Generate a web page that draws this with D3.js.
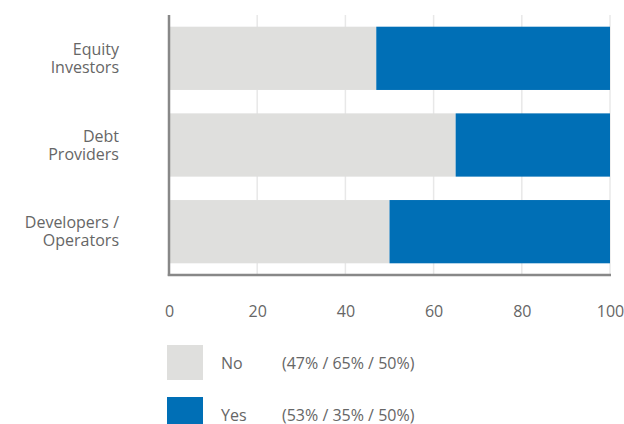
<!DOCTYPE html>
<html>
<head>
<meta charset="utf-8">
<script src="https://cdn.jsdelivr.net/npm/d3@7"></script>
<style>
  html, body { margin: 0; padding: 0; background: #fff; }
  svg { display: block; font-family: "Open Sans", "Noto Sans", sans-serif; }
</style>
</head>
<body>
<svg id="chart" width="624" height="424"></svg>
<script>
// Survey groups (top to bottom), each with two lines of label text
const categories = ["Equity Investors", "Debt Providers", "Developers / Operators"];
const categoryLines = [["Equity", "Investors"], ["Debt", "Providers"], ["Developers /", "Operators"]];
// Share answering "No" and "Yes" per group, in percent
const noValues = [47, 65, 50];
const yesValues = [53, 35, 50];
const seriesNames = ["No", "Yes"];
const seriesColors = ["#dfdfdd", "#006fb6"];
const xTicks = [0, 20, 40, 60, 80, 100];

const svg = d3.select("#chart");
const plotLeft = 169, plotRight = 610, plotTop = 15, plotBottom = 275;
const fontSize = "16px";
const textColor = "#666";

const x = d3.scaleLinear().domain([0, 100]).range([plotLeft, plotRight]);
const y = d3.scaleBand().domain(categories).range([plotTop, plotBottom])
  .paddingInner(0.27).paddingOuter(0.135);

// Vertical grid lines
svg.append("g")
  .selectAll("line")
  .data(xTicks.filter(t => t > 0))
  .join("line")
  .attr("x1", d => x(d)).attr("x2", d => x(d))
  .attr("y1", plotTop).attr("y2", plotBottom)
  .attr("stroke", "#e8e8e8").attr("stroke-width", 1.5);

// Stacked bars
const stackData = categories.map((c, i) => ({ cat: c, No: noValues[i], Yes: yesValues[i] }));
const stacked = d3.stack().keys(seriesNames)(stackData);

svg.append("g")
  .selectAll("g")
  .data(stacked)
  .join("g")
  .attr("fill", (d, i) => seriesColors[i])
  .selectAll("rect")
  .data(d => d)
  .join("rect")
  .attr("x", d => x(d[0]))
  .attr("width", d => x(d[1]) - x(d[0]))
  .attr("y", d => y(d.data.cat))
  .attr("height", y.bandwidth());

// Axis lines
svg.append("line")
  .attr("x1", plotLeft).attr("x2", plotLeft)
  .attr("y1", plotTop).attr("y2", plotBottom + 1)
  .attr("stroke", "#888").attr("stroke-width", 2.5);
svg.append("line")
  .attr("x1", plotLeft - 1.2).attr("x2", plotRight + 1)
  .attr("y1", plotBottom).attr("y2", plotBottom)
  .attr("stroke", "#888").attr("stroke-width", 2.5);

// X tick labels
const xAxis = d3.axisBottom(x).tickValues(xTicks).tickSize(0).tickPadding(0);
const gx = svg.append("g").attr("transform", `translate(0,${plotBottom + 36})`).call(xAxis);
gx.select(".domain").remove();
gx.selectAll("text")
  .attr("dy", "0.35em").attr("y", 0)
  .attr("fill", textColor).style("font-size", fontSize)
  .style("font-family", "'Open Sans', sans-serif");

// Category labels
const catG = svg.append("g");
categories.forEach((c, i) => {
  const cy = y(c) + y.bandwidth() / 2;
  const lines = categoryLines[i];
  const t = catG.append("text")
    .attr("text-anchor", "end")
    .attr("fill", textColor)
    .style("font-size", fontSize);
  lines.forEach((ln, j) => {
    t.append("tspan")
      .attr("x", 119)
      .attr("y", cy + (j - (lines.length - 1) / 2) * 18)
      .attr("dy", "0.35em")
      .text(ln);
  });
});

// Legend
const legendTexts = [
  "(" + noValues.map(v => v + "%").join(" / ") + ")",
  "(" + yesValues.map(v => v + "%").join(" / ") + ")"
];
const legend = svg.append("g");
seriesNames.forEach((name, i) => {
  const ly = 345 + i * 52;
  legend.append("rect")
    .attr("x", 167).attr("y", ly)
    .attr("width", 36).attr("height", 35)
    .attr("fill", seriesColors[i]);
  legend.append("text")
    .attr("x", 221).attr("y", ly + 18).attr("dy", "0.35em")
    .attr("fill", textColor).style("font-size", fontSize)
    .text(name);
  legend.append("text")
    .attr("x", 282).attr("y", ly + 18).attr("dy", "0.35em")
    .attr("fill", textColor).style("font-size", fontSize)
    .text(legendTexts[i]);
});
</script>
</body>
</html>
